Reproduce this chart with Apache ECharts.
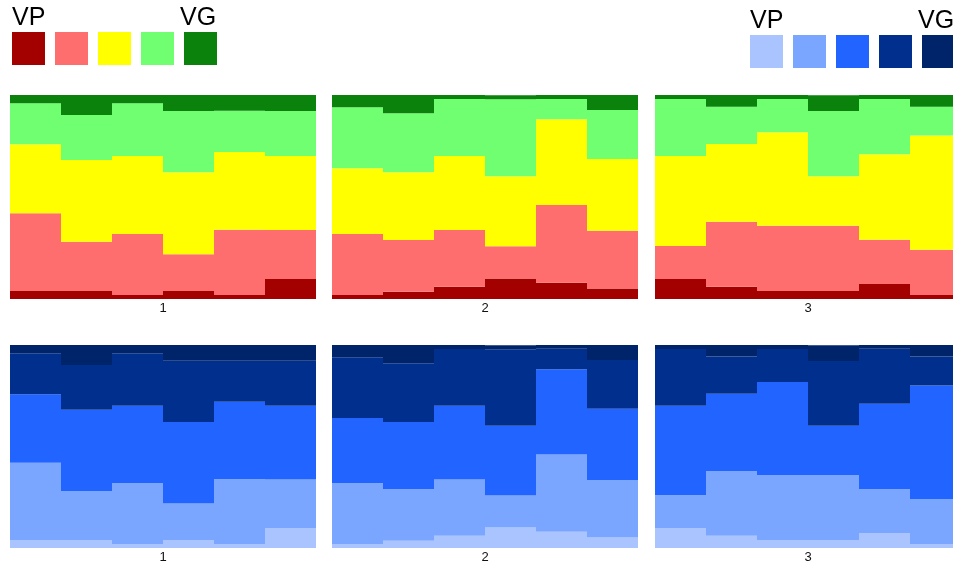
<!DOCTYPE html>
<html>
<head>
<meta charset="utf-8">
<script src="https://cdn.jsdelivr.net/npm/echarts@6/dist/echarts.min.js"></script>
<style>
  html, body { margin: 0; padding: 0; background: #ffffff; }
  #chart { width: 953px; height: 569px; }
</style>
</head>
<body>
<div id="chart"></div>
<script>
// Rating levels, from worst (VP) to best (VG)
const levelNames = ['VP', 'P', 'F', 'G', 'VG'];
const panelLabels = ['1', '2', '3'];
const barCategories = ['a', 'b', 'c', 'd', 'e', 'f'];

// Share (%) of each level for the six bars of every panel; rows follow levelNames
const panel1 = [
  [3.9, 3.9, 2.0, 3.9, 2.0, 9.8],
  [38.1, 24.2, 29.9, 18.0, 31.9, 24.0],
  [33.8, 40.0, 38.2, 40.2, 38.1, 36.3],
  [20.1, 22.1, 25.8, 30.1, 20.3, 22.1],
  [4.1, 9.8, 4.1, 7.8, 7.8, 7.8]
];
const panel2 = [
  [2.0, 3.6, 6.0, 10.1, 8.0, 5.2],
  [29.9, 25.3, 27.8, 15.8, 38.1, 28.3],
  [32.2, 33.2, 36.3, 34.3, 42.0, 35.1],
  [29.9, 28.9, 27.9, 37.7, 10.0, 24.0],
  [6.0, 9.0, 2.0, 2.0, 2.0, 7.4]
];
const panel3 = [
  [9.8, 6.0, 3.9, 3.9, 7.4, 2.0],
  [16.2, 31.9, 32.0, 32.0, 21.6, 22.1],
  [44.1, 38.1, 45.9, 24.3, 42.0, 56.0],
  [27.9, 18.3, 16.2, 31.9, 27.1, 14.2],
  [2.0, 5.7, 2.0, 7.8, 2.0, 5.7]
];
const panels = [panel1, panel2, panel3];

// Two palettes: the top row uses warm-to-green, the bottom row light-to-dark blue
const greenPalette = ['#a30000', '#ff6e6e', '#ffff00', '#70ff70', '#0b820b'];
const bluePalette = ['#a9c4ff', '#7ba6ff', '#2264ff', '#002f8e', '#00246a'];

const chart = echarts.init(document.getElementById('chart'), null, { renderer: 'canvas' });

const panelLeft = [10, 332, 655];
const panelWidth = 306;
const rows = [
  { top: 95, height: 204, palette: greenPalette },
  { top: 345, height: 203, palette: bluePalette }
];

const grid = [], xAxis = [], yAxis = [], series = [];
rows.forEach((row, r) => {
  panels.forEach((panel, p) => {
    const idx = r * panels.length + p;
    grid.push({
      left: panelLeft[p], top: row.top, width: panelWidth, height: row.height,
      containLabel: false, outerBoundsMode: 'none'
    });
    xAxis.push({
      type: 'category', gridIndex: idx, data: barCategories,
      axisLine: { show: false }, axisTick: { show: false }, axisLabel: { show: false },
      splitLine: { show: false },
      name: panelLabels[p], nameLocation: 'middle', nameGap: 3,
      nameTextStyle: { fontFamily: 'Liberation Sans, Arial, sans-serif', fontSize: 13, color: '#111', verticalAlign: 'top' }
    });
    yAxis.push({
      type: 'value', gridIndex: idx, min: 0, max: 100, show: false,
      splitLine: { show: false }
    });
    panel.forEach((values, l) => {
      series.push({
        type: 'bar', name: levelNames[l] + '-' + idx,
        xAxisIndex: idx, yAxisIndex: idx, stack: 'panel' + idx,
        data: values, barCategoryGap: '0%', barGap: '0%',
        itemStyle: { color: row.palette[l], borderWidth: 0 },
        emphasis: { disabled: true }, silent: true, animation: false
      });
    });
  });
});

// Colour keys: five swatches with the end labels above them
const legendFont = 'Liberation Sans, Arial, sans-serif';
function colourKey(x0, y0, palette, vgX) {
  const els = palette.map((c, i) => ({
    type: 'rect', shape: { x: x0 + i * 43, y: y0, width: 33, height: 33 },
    style: { fill: c }
  }));
  els.push({ type: 'text', style: { x: x0, y: y0 - 1, text: 'VP', font: '25px ' + legendFont, fill: '#000', textVerticalAlign: 'bottom' } });
  els.push({ type: 'text', style: { x: vgX, y: y0 - 1, text: 'VG', font: '25px ' + legendFont, fill: '#000', textVerticalAlign: 'bottom' } });
  return els;
}

chart.setOption({
  backgroundColor: '#ffffff',
  animation: false,
  grid, xAxis, yAxis, series,
  graphic: [].concat(
    colourKey(12, 32, greenPalette, 180),
    colourKey(750, 35, bluePalette, 918)
  )
});
</script>
</body>
</html>
